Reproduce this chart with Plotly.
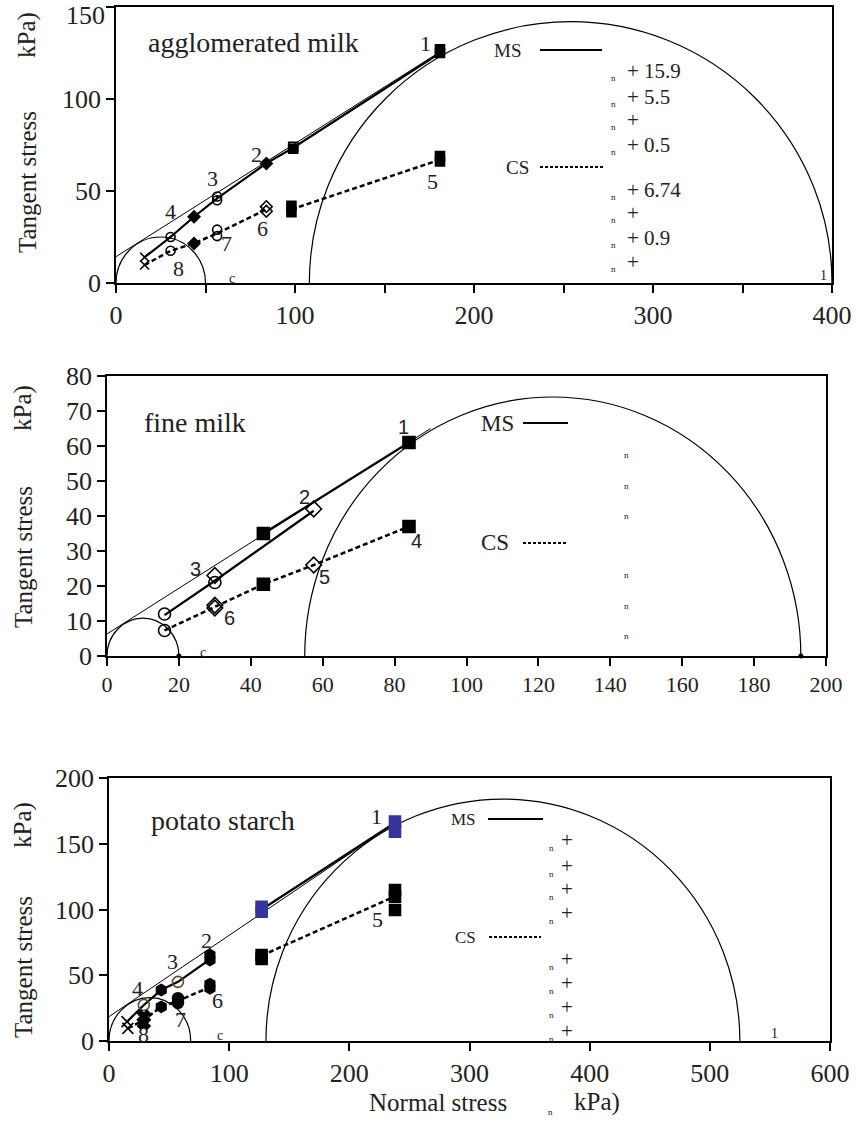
import plotly.graph_objects as go

W, H = 856, 1121
SERIF = "Liberation Serif"
SANS = "Liberation Sans"

# ---------------- agglomerated milk (top) ----------------
agg_locus_x = [0, 180]
agg_locus_y = [14.3, 125]
agg_circles = [(0, 50, 25), (108, 400, 142)]          # sigma3, sigma1, peak
agg_ms_line_x = [16, 30.5, 43.6, 56.5, 84, 99, 181]
agg_ms_line_y = [14, 25, 36, 46, 65, 73.5, 125]
agg_ms_x = [16, 30.5, 43.6, 56.5, 56.5, 84, 99, 99, 181, 181]
agg_ms_y = [14, 25, 36, 47, 45, 65, 74, 73, 127, 125]
agg_ms_sym = ["x-thin", "circle-open-dot", "diamond", "circle-open-dot", "circle-open",
              "diamond", "square-open", "square", "square", "square"]
agg_cs_lines = [([16, 30.5, 43.6, 56.5, 84], [9.8, 17.5, 21.5, 27, 40]),
                ([98, 181], [40, 67])]
agg_cs_x = [16, 30.5, 43.6, 56.5, 56.5, 84, 84, 98, 98, 181, 181]
agg_cs_y = [9.8, 17.5, 21.5, 29, 25.5, 41.5, 39, 42, 38.5, 69, 66]
agg_cs_sym = ["x-thin", "circle-open", "diamond", "circle-open", "circle-open",
              "diamond-open", "diamond-open", "square", "square", "square", "square"]
agg_lbl = ["1", "2", "3", "4", "5", "6", "7", "8"]
agg_lbl_x = [173, 78.5, 53.8, 30.5, 177, 82, 62, 35]
agg_lbl_y = [130, 70, 57, 38.7, 55, 29.7, 21.5, 8]
agg_eq = ["+ 15.9", "+ 5.5", "+", "+ 0.5", "+ 6.74", "+", "+ 0.9", "+"]

# ---------------- fine milk (middle) ----------------
fine_locus_x = [0, 90]
fine_locus_y = [6.3, 65]
fine_circles = [(0, 20, 10.8), (55, 193, 74)]
fine_dots_x = [20, 193]
fine_dots_y = [0, 0]
fine_ms_lines = [([16, 30, 57.5], [11.7, 21.5, 41.5]),
                 ([43.5, 84], [35, 61])]
fine_ms_x = [84, 43.5, 57.5, 30, 30, 16]
fine_ms_y = [61, 35, 42, 23, 21, 12]
fine_ms_sym = ["square", "square", "diamond-open", "diamond-open", "circle-open", "circle-open"]
fine_cs_lines = [([16, 30, 43.5, 57.5, 84], [7.3, 14, 20.5, 26, 37])]
fine_cs_x = [16, 30, 30, 43.5, 57.5, 84]
fine_cs_y = [7.3, 14.5, 13.7, 20.5, 26, 37]
fine_cs_sym = ["circle-open", "diamond-open", "diamond-open", "square", "diamond-open", "square"]
fine_lbl = ["1", "2", "3", "4", "5", "6"]
fine_lbl_x = [82.5, 54.8, 24.5, 86, 60.5, 34]
fine_lbl_y = [65.5, 45.5, 24.8, 33, 22.5, 10.8]

# ---------------- potato starch (bottom) ----------------
pot_locus_x = [0, 240]
pot_locus_y = [18.5, 167]
pot_circles = [(0, 68, 33), (130.6, 525, 184)]
pot_ms_lines = [([15, 29, 43.5, 57.4, 84], [14.7, 27.4, 38.8, 45, 62]),
                ([127, 238], [100, 166])]
pot_ms_x = [15, 29, 43.5, 57.4, 84, 84, 127, 127, 238, 238]
pot_ms_y = [14.7, 27.4, 38.8, 45, 65.4, 61.6, 102, 98.3, 166.8, 159.2]
pot_ms_sym = ["x-thin", "circle-open", "hexagon", "circle-open", "hexagon", "hexagon",
              "square", "square", "square", "square"]
pot_ms_col = ["black", "#5b4a2e", "black", "#5b4a2e", "black", "black",
              "#34349a", "#34349a", "#34349a", "#34349a"]
pot_cs_lines = [([15.7, 29, 43.5, 57.4, 84], [9.6, 16, 26, 30.5, 41]),
                ([127, 238], [65, 110])]
pot_cs_x = [15.7, 29, 29, 43.5, 57.4, 57.4, 84, 84, 127, 127, 238, 238, 238]
pot_cs_y = [9.6, 18.5, 13.7, 26, 32.5, 29, 43.3, 40, 65.4, 62.4, 114.8, 109.7, 99.6]
pot_cs_sym = ["x-thin", "x", "x", "hexagon", "circle", "circle", "hexagon", "hexagon",
              "square", "square", "square", "square", "square"]
pot_lbl = ["1", "2", "3", "4", "5", "6", "7", "8"]
pot_lbl_x = [223, 81.5, 53, 23.3, 223.5, 90, 59.3, 28.8]
pot_lbl_y = [170.6, 76.8, 60.3, 40, 92.5, 31, 16, 4.6]


def px(x):
    return x / W


def py(y):
    return 1 - y / H


fig = go.Figure()
shapes = []
annots = []


def panel(n, locus, circles, ms_lines, ms_pts, cs_lines, cs_pts, msize):
    xa = "x" if n == 1 else "x%d" % n
    ya = "y" if n == 1 else "y%d" % n
    # yield locus (thin)
    fig.add_trace(go.Scatter(x=locus[0], y=locus[1], mode="lines", xaxis=xa, yaxis=ya,
                             line=dict(color="black", width=1), showlegend=False, hoverinfo="skip"))
    for s3, s1, pk in circles:
        shapes.append(dict(type="circle", xref=xa, yref=ya, x0=s3, x1=s1, y0=-pk, y1=pk,
                           line=dict(color="black", width=1.2), layer="below"))
    for lx, ly in ms_lines:
        fig.add_trace(go.Scatter(x=lx, y=ly, mode="lines", xaxis=xa, yaxis=ya,
                                 line=dict(color="black", width=2.2), showlegend=False))
    for lx, ly in cs_lines:
        fig.add_trace(go.Scatter(x=lx, y=ly, mode="lines", xaxis=xa, yaxis=ya,
                                 line=dict(color="black", width=2.5, dash="5px,3px"), showlegend=False))
    for pts in (ms_pts, cs_pts):
        xs, ys, syms, cols = pts
        fig.add_trace(go.Scatter(x=xs, y=ys, mode="markers", xaxis=xa, yaxis=ya, showlegend=False,
                                 marker=dict(symbol=syms, size=msize, color=cols,
                                             line=dict(color=cols, width=1.6))))


panel(1, (agg_locus_x, agg_locus_y), agg_circles,
      [(agg_ms_line_x, agg_ms_line_y)], (agg_ms_x, agg_ms_y, agg_ms_sym, "black"),
      agg_cs_lines, (agg_cs_x, agg_cs_y, agg_cs_sym, "black"), 9)
panel(2, (fine_locus_x, fine_locus_y), fine_circles,
      fine_ms_lines, (fine_ms_x, fine_ms_y, fine_ms_sym, "black"),
      fine_cs_lines, (fine_cs_x, fine_cs_y, fine_cs_sym, "black"), 12)
panel(3, (pot_locus_x, pot_locus_y), pot_circles,
      pot_ms_lines, (pot_ms_x, pot_ms_y, pot_ms_sym, pot_ms_col),
      pot_cs_lines, (pot_cs_x, pot_cs_y, pot_cs_sym, "black"), 11)

fig.add_trace(go.Scatter(x=fine_dots_x, y=fine_dots_y, mode="markers", xaxis="x2", yaxis="y2",
                         marker=dict(color="black", size=5), showlegend=False, cliponaxis=False))

# point labels
for lbls, lx, ly, n, fam in [(agg_lbl, agg_lbl_x, agg_lbl_y, 1, SERIF),
                             (fine_lbl, fine_lbl_x, fine_lbl_y, 2, SANS),
                             (pot_lbl, pot_lbl_x, pot_lbl_y, 3, SERIF)]:
    xa = "x" if n == 1 else "x%d" % n
    ya = "y" if n == 1 else "y%d" % n
    for t, x, y in zip(lbls, lx, ly):
        annots.append(dict(text=t, x=x, y=y, xref=xa, yref=ya, showarrow=False,
                           font=dict(family=fam, size=22 if fam == SERIF else 20, color="#222")))


def txt(t, x, y, size, fam=SERIF, angle=0, xanchor="center"):
    annots.append(dict(text=t, x=px(x), y=py(y), xref="paper", yref="paper", showarrow=False,
                       font=dict(family=fam, size=size, color="#222"), textangle=angle,
                       xanchor=xanchor, yanchor="middle"))


def key(x0, x1, y, dash):
    shapes.append(dict(type="line", xref="paper", yref="paper", x0=px(x0), x1=px(x1),
                       y0=py(y), y1=py(y), line=dict(color="black", width=2, dash=dash)))


# titles
txt("agglomerated milk", 253, 43, 28)
txt("fine milk", 195, 422, 28)
txt("potato starch", 223, 820, 28)

# MS / CS keys
txt("MS", 507, 50, 19); key(540, 602, 50, "solid")
txt("CS", 517, 167, 19); key(540, 605, 167, "3px,2px")
txt("MS", 497, 423, 23); key(523, 568, 423, "solid")
txt("CS", 495, 543, 23); key(523, 567, 543, "3px,2px")
txt("MS", 463, 819, 17); key(488, 543, 819, "solid")
txt("CS", 465, 937, 17); key(489, 541, 937, "3px,2px")

# equation columns (symbols lost in the original)
for t, yy in zip(agg_eq, [71, 97, 120, 145, 190, 213, 238, 262]):
    txt("n", 613, yy + 7, 9)
    txt(t, 625, yy, 21, xanchor="left")
for yy in [455, 486, 516, 575, 606, 636]:
    txt("n", 626, yy, 9)
for yy in [840, 866, 889, 913, 959, 983, 1007, 1031]:
    txt("n", 551, yy + 8, 9)
    txt("+", 559, yy, 21, xanchor="left")

# sigma subscripts
txt("c", 232, 278, 14); txt("1", 823, 275, 14)
txt("c", 203, 652, 14)
txt("c", 220, 1035, 14); txt("1", 774, 1033, 14)

# top "150" label sits a little lower than its tick in the original
txt("150", 107, 16, 26, xanchor="right")

# axis titles
for ts, kp, xx in [(182, 35, 27), (557, 408, 23), (967, 825, 23)]:
    txt("Tangent stress", xx, ts, 25, angle=-90)
    txt("kPa)", xx, kp, 25, angle=-90)
txt("Normal stress", 438, 1102, 25)
txt("n", 550, 1112, 9)
txt("kPa)", 597, 1102, 25)

ax_common = dict(showline=True, linecolor="black", linewidth=1.5, mirror=True, ticks="outside",
                 ticklen=8, tickwidth=1.5, tickcolor="black", showgrid=False, zeroline=False,
                 automargin=False, color="#222")

fig.update_layout(
    width=W, height=H, margin=dict(l=0, r=0, t=0, b=0),
    paper_bgcolor="white", plot_bgcolor="white",
    xaxis=dict(ax_common, domain=[px(116), px(832)], range=[0, 400], anchor="y",
               tickvals=list(range(0, 401, 50)),
               ticktext=["0", "", "100", "", "200", "", "300", "", "400"],
               tickfont=dict(family=SERIF, size=26)),
    yaxis=dict(ax_common, domain=[py(283), py(7)], range=[0, 150], anchor="x",
               tickvals=[0, 50, 100, 150], ticktext=["0", "50", "100", ""],
               tickfont=dict(family=SERIF, size=26)),
    xaxis2=dict(ax_common, domain=[px(107), px(826)], range=[0, 200], anchor="y2", dtick=20,
                tickfont=dict(family=SERIF, size=22)),
    yaxis2=dict(ax_common, domain=[py(656), py(376)], range=[0, 80], anchor="x2", dtick=10,
                tickfont=dict(family=SERIF, size=26), ticklabeloverflow="allow"),
    xaxis3=dict(ax_common, domain=[px(109), px(830)], range=[0, 600], anchor="y3", dtick=100,
                tickfont=dict(family=SERIF, size=26)),
    yaxis3=dict(ax_common, domain=[py(1041), py(778)], range=[0, 200], anchor="x3", dtick=50,
                tickfont=dict(family=SERIF, size=26), ticklabeloverflow="allow"),
    shapes=shapes, annotations=annots,
)

fig.write_html("out.html", config={"displayModeBar": False},
               post_script="document.body.style.margin='0px';")
